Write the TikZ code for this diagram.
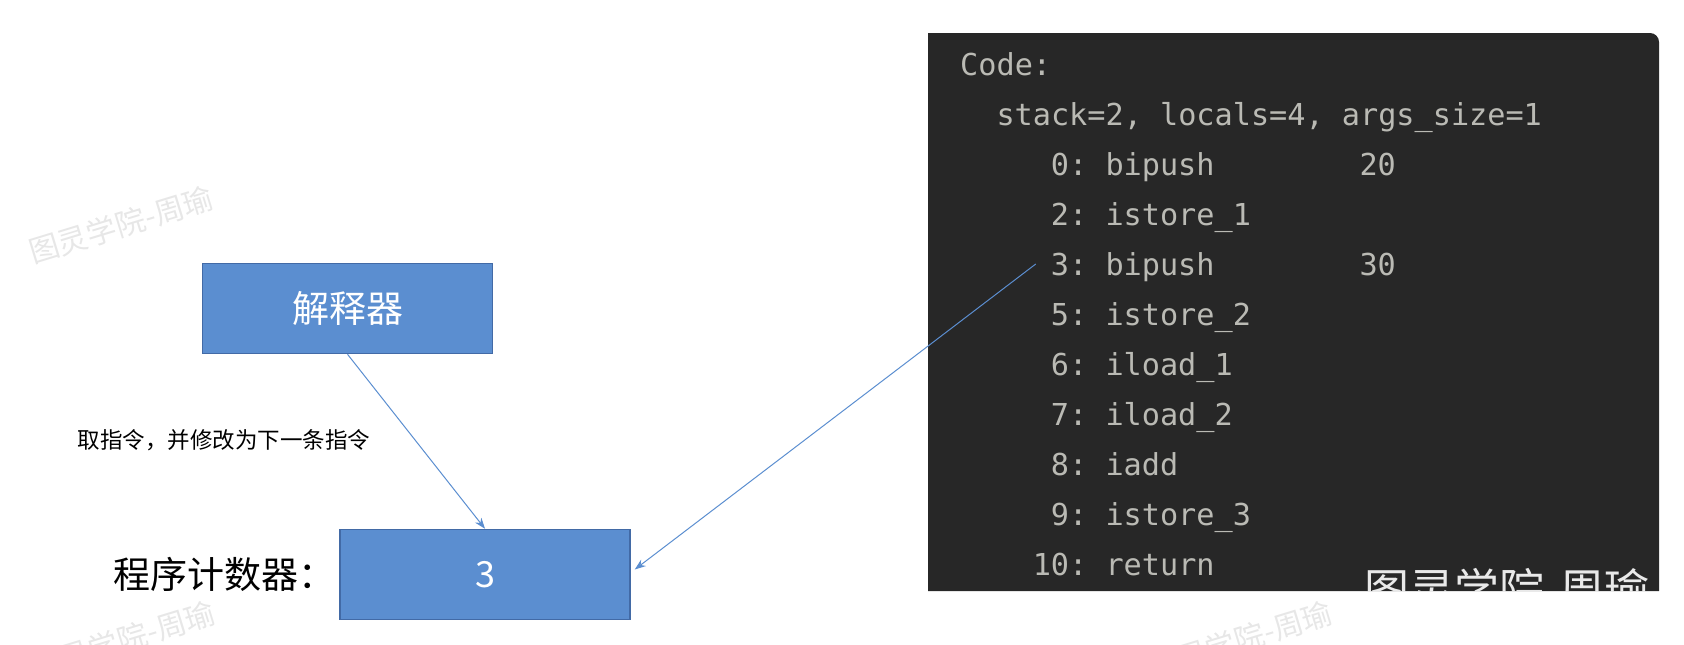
\documentclass[tikz,border=0pt]{standalone}
\usepackage{fontspec}
\setmonofont{DejaVu Sans Mono}
\newfontfamily\cjk{Noto Sans CJK SC}
\usepackage{tikz}
\usetikzlibrary{arrows.meta,positioning}

\definecolor{boxblue}{RGB}{91,142,208}
\definecolor{boxline}{RGB}{66,106,166}
\definecolor{codebg}{RGB}{39,39,39}
\definecolor{codefg}{RGB}{186,186,180}
\definecolor{wmgray}{RGB}{231,231,231}

\begin{document}
\begin{tikzpicture}[x=1pt, y=-1pt,
    blockbox/.style={draw=boxline, line width=1.5pt, fill=boxblue, minimum width=290pt, minimum height=90pt, text=white, font=\cjk\fontsize{37}{44}\selectfont},
    codeline/.style={anchor=base west, inner sep=0pt, text=codefg, font=\ttfamily\fontsize{30.2}{36}\selectfont},
    wmark/.style={text=wmgray, font=\cjk\fontsize{30}{36}\selectfont, rotate=17},
    link/.style={draw=boxblue, line width=1pt, -{Stealth[length=11pt, width=8pt]}}]
    \useasboundingbox (0,0) rectangle (1684,645);

    % faint watermarks
    \node[wmark] (wm1) at (121,225) {图灵学院-周瑜};
    \node[wmark] (wm2) at (123,640) {图灵学院-周瑜};
    \node[wmark] (wm3) at (1240,640) {图灵学院-周瑜};

    % bytecode panel
    \fill[codebg] (928,591) -- (928,33) [rounded corners=9pt] -- (1659,33) [sharp corners] -- (1659,591) -- cycle;
    \begin{scope}
        \clip (928,33) rectangle (1659,591);
        \node[anchor=base west, inner sep=0pt, text=white!90!codebg, font=\cjk\fontsize{45}{50}\selectfont] (wm4) at (1364,606) {图灵学院-周瑜};
    \end{scope}

    \node[codeline] (l0) at (960,75) {Code:};
    \node[codeline] (l1) at (996.3,125) {stack=2, locals=4, args\_size=1};
    \node[codeline] (l2) at (1050.75,175) {0: bipush};
    \node[codeline] (v2) at (1359.3,175) {20};
    \node[codeline] (l3) at (1050.75,225) {2: istore\_1};
    \node[codeline] (l4) at (1050.75,275) {3: bipush};
    \node[codeline] (v4) at (1359.3,275) {30};
    \node[codeline] (l5) at (1050.75,325) {5: istore\_2};
    \node[codeline] (l6) at (1050.75,375) {6: iload\_1};
    \node[codeline] (l7) at (1050.75,425) {7: iload\_2};
    \node[codeline] (l8) at (1050.75,475) {8: iadd};
    \node[codeline] (l9) at (1050.75,525) {9: istore\_3};
    \node[codeline] (l10) at (1032.6,575) {10: return};

    % interpreter and program counter
    \node[blockbox] (interp) at (347.5,308.5) {解释器};
    \node[blockbox, font=\cjk\fontsize{36}{44}\selectfont] (pc) at (485,574.5) {3};
    \node[left=4pt of pc, inner sep=0pt, font=\cjk\fontsize{37}{44}\selectfont] (pclabel) {程序计数器：};
    \node[font=\cjk\fontsize{22.5}{28}\selectfont] (fetch) at (224,440) {取指令，并修改为下一条指令};

    \draw[link] (interp.south) -- (pc.north);
    \draw[link] ([xshift=-15pt, yshift=11pt]l4.base west) -- ([xshift=4pt, yshift=5pt]pc.east);
\end{tikzpicture}
\end{document}
